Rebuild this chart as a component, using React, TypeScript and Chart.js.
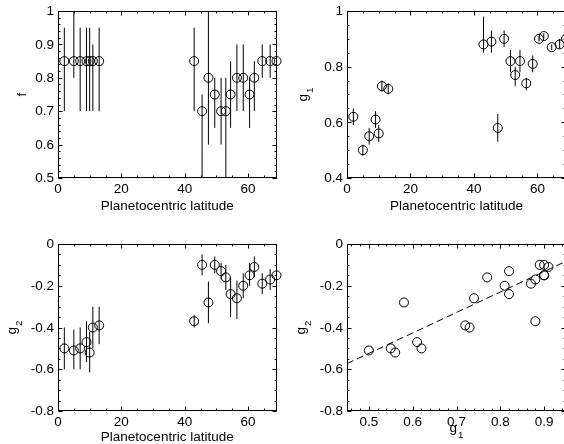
import React, { useEffect, useRef } from "react";
import { Chart, registerables } from "chart.js";
Chart.register(...registerables);

// ---------------- data ----------------
const latitude = [2, 5, 7, 9, 10, 11, 13, 43, 45.5, 47.5, 49.5, 51.5, 53, 54.5, 56.5, 58.5, 60.5, 62, 64.5, 67, 69];

const fValues = [0.85, 0.85, 0.85, 0.85, 0.85, 0.85, 0.85, 0.85, 0.7, 0.8, 0.75, 0.7, 0.7, 0.75, 0.8, 0.8, 0.75, 0.8, 0.85, 0.85, 0.85];
const fLow = [0.7, 0.8, 0.7, 0.7, 0.7, 0.7, 0.7, 0.7, 0.45, 0.6, 0.65, 0.6, 0.45, 0.65, 0.7, 0.7, 0.65, 0.7, 0.8, 0.8, 0.8];
const fHigh = [0.95, 1.05, 0.95, 0.95, 0.95, 0.9, 0.95, 0.95, 0.75, 1.05, 0.8, 0.8, 0.8, 0.85, 0.9, 0.9, 0.8, 0.85, 0.9, 0.9, 0.9];

const g1Values = [0.62, 0.5, 0.55, 0.61, 0.56, 0.73, 0.72, 0.88, 0.89, 0.58, 0.9, 0.82, 0.77, 0.82, 0.74, 0.81, 0.9, 0.91, 0.87, 0.88, 0.9];
const g1Low = [0.59, 0.48, 0.52, 0.58, 0.53, 0.71, 0.7, 0.85, 0.85, 0.53, 0.87, 0.78, 0.73, 0.78, 0.715, 0.78, 0.89, 0.9, 0.86, 0.865, 0.88];
const g1High = [0.65, 0.52, 0.58, 0.64, 0.59, 0.75, 0.74, 0.98, 0.93, 0.63, 0.93, 0.86, 0.8, 0.86, 0.76, 0.84, 0.91, 0.92, 0.88, 0.9, 0.92];

const g2Values = [-0.5, -0.51, -0.5, -0.47, -0.52, -0.4, -0.39, -0.37, -0.1, -0.28, -0.1, -0.13, -0.16, -0.24, -0.26, -0.2, -0.15, -0.11, -0.19, -0.17, -0.15];
const g2Low = [-0.6, -0.6, -0.6, -0.565, -0.615, -0.5, -0.48, -0.4, -0.15, -0.38, -0.14, -0.17, -0.22, -0.35, -0.36, -0.26, -0.2, -0.16, -0.24, -0.22, -0.2];
const g2High = [-0.4, -0.41, -0.4, -0.37, -0.42, -0.3, -0.3, -0.34, -0.05, -0.18, -0.06, -0.09, -0.1, -0.16, -0.175, -0.14, -0.09, -0.06, -0.14, -0.12, -0.11];

// fitted line g2 = slope * g1 + intercept
const fitSlope = 0.98;
const fitIntercept = -1.014;

// tick values
const latTicks = [0, 20, 40, 60];
const fTicks = [0.5, 0.6, 0.7, 0.8, 0.9, 1];
const g1Ticks = [0.4, 0.6, 0.8, 1];
const g2Ticks = [-0.8, -0.6, -0.4, -0.2, 0];
const g1AxisTicks = [0.5, 0.6, 0.7, 0.8, 0.9];

// ---------------- layout / style ----------------
const FONT = '"Liberation Sans", Arial, Helvetica, sans-serif';
const FS = 13.5;

type Title = { main: string; sub?: string };
type PanelCfg = {
  left: number; top: number; width: number; height: number;
  area: { left: number; top: number; right: number; bottom: number };
  xMin: number; xMax: number; xTicks: number[]; xMinor: number;
  yMin: number; yMax: number; yTicks: number[]; yMinor: number;
  xs: number[]; ys: number[]; low?: number[]; high?: number[];
  fit?: boolean;
  xTitle: Title; yTitle: Title;
  xTitleY: number; yTitleX: number; xLabelOffset: number;
};

const fmt = (v: number) => String(parseFloat(v.toFixed(3)));

function minorValues(min: number, max: number, step: number) {
  const out: number[] = [];
  const start = Math.ceil(min / step - 1e-6);
  const end = Math.floor(max / step + 1e-6);
  for (let i = start; i <= end; i++) out.push(i * step);
  return out;
}

function drawTitle(ctx: CanvasRenderingContext2D, t: Title, x: number, y: number, rotate: boolean) {
  ctx.save();
  ctx.fillStyle = "#000";
  ctx.textBaseline = "alphabetic";
  ctx.textAlign = "left";
  const mainFont = `${FS}px ${FONT}`;
  const subFont = `${FS * 0.72}px ${FONT}`;
  ctx.font = mainFont;
  const wm = ctx.measureText(t.main).width;
  ctx.font = subFont;
  const ws = t.sub ? ctx.measureText(t.sub).width + 1 : 0;
  const total = wm + ws;
  ctx.translate(x, y);
  if (rotate) ctx.rotate(-Math.PI / 2);
  ctx.font = mainFont;
  ctx.fillText(t.main, -total / 2, 0);
  if (t.sub) {
    ctx.font = subFont;
    ctx.fillText(t.sub, -total / 2 + wm + 1, 6);
  }
  ctx.restore();
}

function Panel({ cfg }: { cfg: PanelCfg }) {
  const ref = useRef<HTMLCanvasElement | null>(null);
  useEffect(() => {
    if (!ref.current) return;
    const points = cfg.xs.map((x, i) => ({ x, y: cfg.ys[i] }));
    const datasets: any[] = [
      {
        type: "scatter",
        data: points,
        pointStyle: "circle",
        pointRadius: 4.5,
        borderColor: "#000",
        borderWidth: 1,
        backgroundColor: "rgba(0,0,0,0)",
        clip: false,
        order: 1,
      },
    ];
    if (cfg.fit) {
      datasets.push({
        type: "line",
        data: [
          { x: cfg.xMin, y: fitSlope * cfg.xMin + fitIntercept },
          { x: cfg.xMax, y: fitSlope * cfg.xMax + fitIntercept },
        ],
        borderColor: "#000",
        borderWidth: 1,
        borderDash: [7, 4],
        pointRadius: 0,
        fill: false,
        order: 2,
      });
    }

    const plugin = {
      id: "idlStyle",
      beforeDatasetsDraw(chart: any) {
        if (!cfg.low || !cfg.high) return;
        const { ctx, chartArea } = chart;
        const xs = chart.scales.x, ys = chart.scales.y;
        ctx.save();
        ctx.beginPath();
        ctx.rect(chartArea.left, chartArea.top, chartArea.right - chartArea.left, chartArea.bottom - chartArea.top);
        ctx.clip();
        ctx.strokeStyle = "#000";
        ctx.lineWidth = 1;
        cfg.xs.forEach((x, i) => {
          const px = xs.getPixelForValue(x);
          ctx.beginPath();
          ctx.moveTo(px, ys.getPixelForValue(cfg.low![i]));
          ctx.lineTo(px, ys.getPixelForValue(cfg.high![i]));
          ctx.stroke();
        });
        ctx.restore();
      },
      afterDraw(chart: any) {
        const { ctx, chartArea } = chart;
        const xs = chart.scales.x, ys = chart.scales.y;
        const L = Math.round(chartArea.left) + 0.5;
        const R = Math.round(chartArea.right) - 0.5;
        const T = Math.round(chartArea.top) + 0.5;
        const B = Math.round(chartArea.bottom) - 0.5;
        ctx.save();
        ctx.strokeStyle = "#000";
        ctx.lineWidth = 1;
        ctx.strokeRect(L, T, R - L, B - T);
        ctx.beginPath();
        const xt = (vals: number[], len: number) => vals.forEach((v) => {
          const p = Math.round(xs.getPixelForValue(v)) + 0.5;
          ctx.moveTo(p, B); ctx.lineTo(p, B - len);
          ctx.moveTo(p, T); ctx.lineTo(p, T + len);
        });
        const yt = (vals: number[], len: number) => vals.forEach((v) => {
          const p = Math.round(ys.getPixelForValue(v)) + 0.5;
          ctx.moveTo(L, p); ctx.lineTo(L + len, p);
          ctx.moveTo(R, p); ctx.lineTo(R - len, p);
        });
        xt(minorValues(cfg.xMin, cfg.xMax, cfg.xMinor), 2);
        xt(cfg.xTicks, 4);
        yt(minorValues(cfg.yMin, cfg.yMax, cfg.yMinor), 2);
        yt(cfg.yTicks, 4);
        ctx.stroke();

        // tick labels
        ctx.fillStyle = "#000";
        ctx.font = `${FS}px ${FONT}`;
        ctx.textBaseline = "middle";
        ctx.textAlign = "center";
        cfg.xTicks.forEach((v) => {
          ctx.fillText(fmt(v), xs.getPixelForValue(v), chartArea.bottom + cfg.xLabelOffset);
        });
        ctx.textAlign = "right";
        cfg.yTicks.forEach((v) => {
          ctx.fillText(fmt(v), chartArea.left - 4, ys.getPixelForValue(v) + 0.5);
        });
        ctx.restore();

        const midY = (chartArea.top + chartArea.bottom) / 2;
        const midX = (chartArea.left + chartArea.right) / 2;
        drawTitle(ctx, cfg.yTitle, cfg.yTitleX, midY, true);
        drawTitle(ctx, cfg.xTitle, midX, cfg.xTitleY, false);
      },
    };

    const chart = new Chart(ref.current, {
      type: "scatter",
      data: { datasets },
      plugins: [plugin],
      options: {
        animation: false,
        responsive: false,
        maintainAspectRatio: false,
        events: [],
        layout: { padding: { left: 0, top: cfg.area.top, right: cfg.width - cfg.area.right, bottom: 0 } },
        plugins: { legend: { display: false }, tooltip: { enabled: false } },
        scales: {
          x: {
            type: "linear",
            min: cfg.xMin,
            max: cfg.xMax,
            grid: { display: false, drawTicks: false },
            border: { display: false },
            ticks: { display: false },
            afterBuildTicks: (s: any) => { s.ticks = cfg.xTicks.map((value) => ({ value })); },
            afterFit: (s: any) => { s.height = cfg.height - cfg.area.bottom; },
          },
          y: {
            type: "linear",
            min: cfg.yMin,
            max: cfg.yMax,
            grid: { display: false, drawTicks: false },
            border: { display: false },
            ticks: { display: false },
            afterBuildTicks: (s: any) => { s.ticks = cfg.yTicks.map((value) => ({ value })); },
            afterFit: (s: any) => { s.width = cfg.area.left; },
          },
        },
      } as any,
    });
    return () => chart.destroy();
  }, [cfg]);
  return (
    <canvas
      ref={ref}
      width={cfg.width}
      height={cfg.height}
      style={{ position: "absolute", left: cfg.left, top: cfg.top, width: cfg.width, height: cfg.height }}
    />
  );
}

const latTitle: Title = { main: "Planetocentric latitude" };

const panels: PanelCfg[] = [
  {
    left: 0, top: 0, width: 282, height: 222,
    area: { left: 58, top: 11, right: 277, bottom: 178 },
    xMin: 0, xMax: 69, xTicks: latTicks, xMinor: 5,
    yMin: 0.5, yMax: 1, yTicks: fTicks, yMinor: 0.02,
    xs: latitude, ys: fValues, low: fLow, high: fHigh,
    xTitle: latTitle, yTitle: { main: "f" }, xTitleY: 210, yTitleX: 26, xLabelOffset: 11.5,
  },
  {
    left: 282, top: 0, width: 290, height: 222,
    area: { left: 65, top: 11, right: 284, bottom: 178 },
    xMin: 0, xMax: 69, xTicks: latTicks, xMinor: 5,
    yMin: 0.4, yMax: 1, yTicks: g1Ticks, yMinor: 0.05,
    xs: latitude, ys: g1Values, low: g1Low, high: g1High,
    xTitle: latTitle, yTitle: { main: "g", sub: "1" }, xTitleY: 210, yTitleX: 25, xLabelOffset: 11.5,
  },
  {
    left: 0, top: 222, width: 282, height: 222,
    area: { left: 58, top: 22, right: 277, bottom: 189 },
    xMin: 0, xMax: 69, xTicks: latTicks, xMinor: 5,
    yMin: -0.8, yMax: 0, yTicks: g2Ticks, yMinor: 0.05,
    xs: latitude, ys: g2Values, low: g2Low, high: g2High,
    xTitle: latTitle, yTitle: { main: "g", sub: "2" }, xTitleY: 219, yTitleX: 16, xLabelOffset: 11.5,
  },
  {
    left: 282, top: 222, width: 290, height: 222,
    area: { left: 65, top: 22, right: 284, bottom: 189 },
    xMin: 0.45, xMax: 0.95, xTicks: g1AxisTicks, xMinor: 0.02,
    yMin: -0.8, yMax: 0, yTicks: g2Ticks, yMinor: 0.05,
    xs: g1Values, ys: g2Values, fit: true,
    xTitle: { main: "g", sub: "1" }, yTitle: { main: "g", sub: "2" }, xTitleY: 210, yTitleX: 23, xLabelOffset: 11.5,
  },
];

export default function App() {
  return (
    <div style={{ position: "fixed", left: 0, top: 0, width: 564, height: 444, overflow: "hidden", background: "#fff" }}>
      {panels.map((p, i) => (
        <Panel key={i} cfg={p} />
      ))}
    </div>
  );
}
